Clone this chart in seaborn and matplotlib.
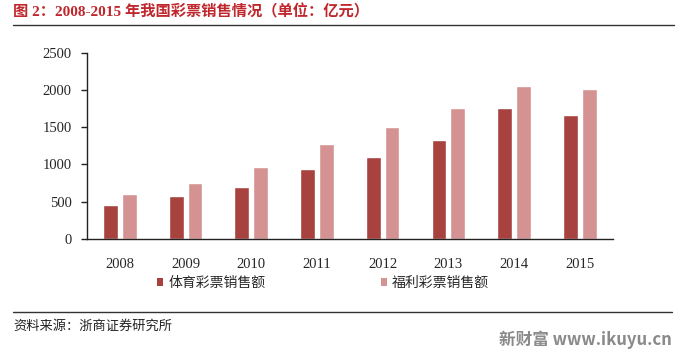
import matplotlib
matplotlib.use("Agg")
import matplotlib.pyplot as plt
from matplotlib.lines import Line2D
from matplotlib.patches import Patch
import seaborn as sns
import pandas as pd

years = ["2008", "2009", "2010", "2011", "2012", "2013", "2014", "2015"]
sports = [456, 569, 694, 937, 1105, 1328, 1764, 1664]
welfare = [604, 756, 968, 1278, 1510, 1765, 2060, 2015]
series_names = ["体育彩票销售额", "福利彩票销售额"]
yticks = [0, 500, 1000, 1500, 2000, 2500]

colors = ["#A8423F", "#D49392"]

df = pd.DataFrame({
    "year": years * 2,
    "value": sports + welfare,
    "series": [series_names[0]] * len(years) + [series_names[1]] * len(years),
})

sns.set_style("white")
plt.rcParams["font.family"] = ["Liberation Serif", "Noto Sans CJK SC", "DejaVu Sans"]

fig = plt.figure(figsize=(6.82, 3.55), dpi=100)
ax = fig.add_axes([87 / 682, 116.3 / 355, 525.6 / 682, 185.7 / 355])

sns.barplot(data=df, x="year", y="value", hue="series", palette=colors,
            width=0.57, gap=0.21, ax=ax, legend=False, saturation=1)

ax.set_ylim(0, 2500)
ax.set_xlim(-0.5, len(years) - 0.5)
ax.set_yticks(yticks)
ax.set_yticklabels([str(v) for v in yticks], fontsize=10.5, family="Liberation Serif")
ax.set_xticks(range(len(years)))
ax.set_xticklabels(years, fontsize=10.5, family="Liberation Serif")
ax.set_xlabel("")
ax.set_ylabel("")
for s in ["top", "right"]:
    ax.spines[s].set_visible(False)
for s in ["left", "bottom"]:
    ax.spines[s].set_color("#222222")
    ax.spines[s].set_linewidth(1.0)
ax.tick_params(axis="y", direction="out", length=4, width=1, color="#222222", pad=7, left=True)
ax.tick_params(axis="x", length=0, pad=14)
ax.grid(False)

handles = [Patch(facecolor=c, edgecolor="none") for c in colors]
fig.legend(handles, series_names, loc="center left",
           bbox_to_anchor=(157 / 682, 1 - 283 / 355), ncol=2, frameon=False,
           prop={"family": ["Noto Sans CJK SC"], "size": 10},
           handlelength=0.45, handleheight=0.45, handletextpad=0.35,
           columnspacing=8.3, borderpad=0, borderaxespad=0)

fig.text(13 / 682, 1 - 12 / 355, "图 2：2008-2015 年我国彩票销售情况（单位：亿元）",
         fontsize=11, fontweight="bold", color="#C0272D", va="center", ha="left",
         family=["Liberation Serif", "Noto Sans CJK SC"])
fig.add_artist(Line2D([13 / 682, 674 / 682], [1 - 24.5 / 355, 1 - 24.5 / 355],
                      color="#333333", linewidth=1.0))
fig.add_artist(Line2D([13 / 682, 672 / 682], [1 - 312 / 355, 1 - 312 / 355],
                      color="#333333", linewidth=1.0))
fig.text(13 / 682, 1 - 326 / 355, "资料来源：浙商证券研究所", fontsize=9.5,
         color="#222222", va="center", ha="left", family=["Noto Sans CJK SC"])
fig.text(672 / 682, 1 - 340 / 355, "新财富 www.ikuyu.cn", fontsize=12,
         fontweight="bold", color="#8A8A8A", va="center", ha="right",
         family=["Noto Sans CJK SC", "DejaVu Sans"])

fig.savefig("out.png", dpi=100)
